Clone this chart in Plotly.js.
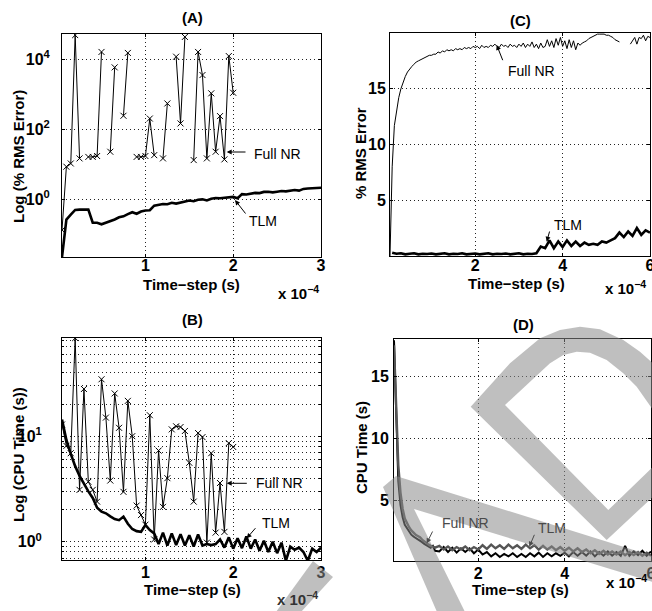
<!DOCTYPE html>
<html>
<head>
<meta charset="utf-8">
<script src="https://cdn.plot.ly/plotly-3.0.1.min.js"></script>
<style>
html,body{margin:0;padding:0;background:#fff;}
#chart{width:652px;height:611px;}
</style>
</head>
<body>
<div id="chart"></div>
<script>
// Time-step grids (x 10^-4 s)
const t05 = [0.05,0.1,0.15,0.2,0.25,0.3,0.35,0.4,0.45,0.5,0.55,0.6,0.65,0.7,0.75,0.8,0.85,0.9,0.95,1,
  1.05,1.1,1.15,1.2,1.25,1.3,1.35,1.4,1.45,1.5,1.55,1.6,1.65,1.7,1.75,1.8,1.85,1.9,1.95,2,
  2.05,2.1,2.15,2.2,2.25,2.3,2.35,2.4,2.45,2.5,2.55,2.6,2.65,2.7,2.75,2.8,2.85,2.9,2.95,3,
  3.05,3.1,3.15,3.2,3.25,3.3,3.35,3.4,3.45,3.5,3.55,3.6,3.65,3.7,3.75,3.8,3.85,3.9,3.95,4,
  4.05,4.1,4.15,4.2,4.25,4.3,4.35,4.4,4.45,4.5,4.55,4.6,4.65,4.7,4.75,4.8,4.85,4.9,4.95,5,
  5.05,5.1,5.15,5.2,5.25,5.3,5.35,5.4,5.45,5.5,5.55,5.6,5.65,5.7,5.75,5.8,5.85,5.9,5.95,6];
const t10 = [0.1,0.2,0.3,0.4,0.5,0.6,0.7,0.8,0.9,1,1.1,1.2,1.3,1.4,1.5,1.6,1.7,1.8,1.9,2,
  2.1,2.2,2.3,2.4,2.5,2.6,2.7,2.8,2.9,3,3.1,3.2,3.3,3.4,3.5,3.6,3.7,3.8,3.9,4,
  4.1,4.2,4.3,4.4,4.5,4.6,4.7,4.8,4.9,5,5.1,5.2,5.3,5.4,5.5,5.6,5.7,5.8,5.9,6];

// (A) % RMS error, log scale
const aFullNR = [0.13,8.4,10.4,48500,14.5,null,16,16,17,16000,null,22.5,5800,null,240,15000,null,16,16,17,
  200,18,null,14.5,540,null,11700,145,43000,null,13,16000,3500,14.5,1050,22.5,235,13.6,12200,1090];
const aTLM = [0.022,0.26,0.36,0.49,0.5,0.51,0.5,0.21,0.21,0.19,0.21,0.24,0.26,0.30,0.32,0.37,0.42,0.38,0.44,0.47,
  0.48,0.65,0.69,0.72,0.71,0.78,0.74,0.80,0.87,0.91,0.87,0.95,0.98,0.91,1.02,1.07,1.05,1.07,1.10,1.15,
  1.05,1.38,1.35,1.45,1.5,1.48,1.6,1.62,1.55,1.62,1.7,1.66,1.78,1.82,1.74,1.95,2.0,2.0,2.05,2.1];

// (B) CPU time, log scale
const bFullNR = [12.9,8.1,6.9,85,3.1,28,3.7,3.1,2.4,34.6,15,3.8,25.4,12,2.97,21.6,10,2.2,1.79,1.45,
  15.8,1.05,7.3,2.14,4.0,11.6,12.4,12.2,11.2,5.6,2.4,10.7,9.8,0.98,6.9,1.22,3.6,1.24,8.6,7.9];
const bTLM = [14.4,9.2,6.8,5.2,4.2,3.5,3.0,2.6,2.1,1.93,1.86,1.74,1.64,1.6,1.73,1.48,1.32,1.26,1.24,1.44,
  1.29,1.20,0.95,1.22,0.92,1.20,0.93,1.18,0.92,1.15,0.90,1.17,0.92,0.95,0.93,0.95,1.05,0.88,1.10,0.86,
  1.08,0.87,1.12,0.86,1.05,0.82,1.02,0.80,1.0,0.78,0.98,0.66,0.9,0.84,0.88,0.80,0.66,0.86,0.80,0.88];

// (C) % RMS error, linear
const cFullNR = [0,8.0,11.7,13.1,14.2,15.0,15.6,16.1,16.5,16.8,17.0,17.2,17.4,17.5,17.6,17.7,17.8,17.9,18.0,18.0,
  18.1,18.1,18.3,18.2,18.4,18.3,18.5,18.4,18.5,18.4,18.6,18.5,18.6,18.5,18.7,18.6,18.7,18.6,18.8,18.7,
  18.8,18.6,18.9,18.7,18.8,18.7,18.9,18.8,19.0,18.8,18.7,19.0,18.8,18.9,18.7,19.0,18.8,18.9,18.7,19.0,
  18.8,19.1,18.7,19.0,18.8,19.2,18.7,19.0,18.6,19.1,18.7,18.8,19.4,18.8,19.3,18.7,19.5,18.9,19.6,18.8,
  19.3,18.6,19.4,18.7,19.3,18.5,19.1,18.9,19.1,19.2,19.3,19.5,19.6,19.7,19.8,19.9,19.9,19.9,19.9,19.8,
  19.8,19.7,19.6,19.4,19.3,19.2,null,null,null,null,19.0,19.3,19.6,19.0,19.6,19.5,19.8,19.3,19.7,19.6];
const cTLM = [0.3,0.2,0.25,0.15,0.2,0.25,0.15,0.2,0.18,0.22,0.15,0.2,0.25,0.15,0.2,0.18,0.25,0.15,0.2,0.22,
  0.15,0.2,0.25,0.15,0.2,0.18,0.22,0.15,0.2,0.25,0.15,0.2,0.18,0.25,0.85,0.7,1.4,0.7,1.3,0.8,
  1.4,0.9,1.3,0.9,1.2,1.0,1.1,1.0,1.3,1.2,1.4,1.6,2.1,1.7,2.2,1.8,2.5,1.9,2.3,2.1];

// (D) CPU time, linear
const dX = t05.slice(0,20).concat(t10.slice(10));
const dFullNR = [17.9,11.5,6.5,4.6,3.6,3.0,2.7,2.4,2.2,2.05,1.95,1.85,1.75,1.6,1.45,1.35,1.3,1.15,1.3,0.9,
  0.85,1.2,0.8,1.15,0.75,1.1,0.8,1.1,0.7,1.0,0.6,0.8,0.45,0.7,0.4,0.65,0.45,0.7,0.4,0.65,
  0.4,0.7,0.45,0.75,0.4,0.7,0.45,0.7,0.5,0.75,0.45,0.8,0.5,0.8,0.5,0.85,0.45,0.8,0.5,0.85,
  0.5,0.8,0.5,1.3,0.5,0.85,0.55,0.9,0.5,0.85];
const dTLM = [17.5,12.5,7.8,5.6,4.3,3.5,3.1,2.8,2.55,2.35,2.2,2.1,2.0,1.8,1.65,1.5,1.4,1.3,1.2,1.15,
  1.3,1.0,1.25,0.95,1.2,1.0,1.25,0.95,1.2,1.0,1.35,1.05,1.4,1.1,1.35,1.05,1.4,1.1,1.35,1.05,
  1.4,1.1,1.35,1.0,1.3,1.0,1.25,0.95,1.2,0.9,1.15,0.85,1.1,0.8,1.0,0.7,0.95,0.65,0.9,0.6,
  0.85,0.6,0.85,0.55,0.8,0.55,0.8,0.5,0.75,0.5];

const W = 652, H = 611;
const px = v => v / W;
const py = v => 1 - v / H;
const FONT = 'Liberation Sans, Arial, Helvetica, sans-serif';

const markerX = {symbol:'x-thin-open', size:6, color:'#000', line:{width:1, color:'#000'}};
const traces = [
  {x:t05.slice(0,40), y:aFullNR, xaxis:'x', yaxis:'y', mode:'lines+markers', line:{color:'#000', width:1}, marker:markerX},
  {x:t05.slice(0,60), y:aTLM, xaxis:'x', yaxis:'y', mode:'lines', line:{color:'#000', width:2.6}},
  {x:t05.slice(0,40), y:bFullNR, xaxis:'x2', yaxis:'y2', mode:'lines+markers', line:{color:'#000', width:1}, marker:markerX},
  {x:t05.slice(0,60), y:bTLM, xaxis:'x2', yaxis:'y2', mode:'lines', line:{color:'#000', width:2.6}},
  {x:t05, y:cFullNR, xaxis:'x3', yaxis:'y3', mode:'lines', line:{color:'#000', width:1}},
  {x:t10, y:cTLM, xaxis:'x3', yaxis:'y3', mode:'lines', line:{color:'#000', width:2.6}},
  {x:dX, y:dFullNR, xaxis:'x4', yaxis:'y4', mode:'lines', line:{color:'#000', width:2}},
  {x:dX, y:dTLM, xaxis:'x4', yaxis:'y4', mode:'lines', line:{color:'#555', width:2.4}}
];

const tf = {family:FONT, size:16, color:'#000', weight:'bold'};
function ax(extra){
  return Object.assign({
    showline:true, mirror:'ticks', linecolor:'#000', linewidth:1,
    ticks:'inside', ticklen:3, tickcolor:'#000',
    showgrid:true, gridcolor:'#222', griddash:'1px,3px', gridwidth:1,
    zeroline:false, tickfont:tf, fixedrange:true, ticklabeloverflow:'allow'
  }, extra);
}

const sup = n => '10<sup>' + n + '</sup>';
const minorB = [0.7,0.8,0.9,2,3,4,5,6,7,8,9,20,30,40,50,60,70,80];

const layout = {
  width:W, height:H, margin:{l:0,r:0,t:0,b:0},
  paper_bgcolor:'#fff', plot_bgcolor:'#fff', showlegend:false,
  font:{family:FONT, color:'#000'},
  xaxis: ax({domain:[px(62),px(321)], anchor:'y', range:[0.05,3], tickmode:'array', tickvals:[1,2,3], ticklabelstandoff:-6}),
  yaxis: ax({domain:[py(257),py(34)], anchor:'x', type:'log', range:[-1.656,4.717], tickmode:'array',
    tickvals:[1,100,10000], ticktext:[sup(0),sup(2),sup(4)], ticklabelstandoff:8}),
  xaxis2: ax({domain:[px(62),px(321)], anchor:'y2', range:[0.05,3], tickmode:'array', tickvals:[1,2,3], ticklabelstandoff:-2}),
  yaxis2: ax({domain:[py(560),py(338)], anchor:'x2', type:'log', range:[-0.173,1.93], tickmode:'array',
    tickvals:[1,10], ticktext:[sup(0),sup(1)], ticklabelstandoff:16,
    minor:{tickmode:'array', tickvals:minorB, ticks:'inside', ticklen:2, tickcolor:'#000', showgrid:true, gridcolor:'#222', griddash:'1px,3px', gridwidth:1}}),
  xaxis3: ax({domain:[px(390),px(650)], anchor:'y3', range:[0.05,6], tickmode:'array', tickvals:[2,4,6], ticklabelstandoff:-5}),
  yaxis3: ax({domain:[py(256),py(33)], anchor:'x3', range:[0,20], tickmode:'array', tickvals:[5,10,15], ticklabelstandoff:0}),
  xaxis4: ax({domain:[px(394),px(651)], anchor:'y4', range:[0.05,6], tickmode:'array', tickvals:[2,4,6], ticklabelstandoff:-2}),
  yaxis4: ax({domain:[py(560.7),py(339)], anchor:'x4', range:[0.1,18], tickmode:'array', tickvals:[5,10,15], ticklabelstandoff:1}),
  annotations: [],
  shapes: []
};

function txt(t, x, y, opts){
  layout.annotations.push(Object.assign({
    text:t, x:px(x), y:py(y), xref:'paper', yref:'paper', xanchor:'center', yanchor:'middle',
    showarrow:false, font:{family:FONT, size:15, color:'#000', weight:'bold'}
  }, opts||{}));
}
function arrow(tipX, tipY, tailX, tailY, color){
  layout.annotations.push({
    text:'', x:px(tipX), y:py(tipY), xref:'paper', yref:'paper',
    showarrow:true, ax:tailX-tipX, ay:tailY-tipY, axref:'pixel', ayref:'pixel',
    arrowhead:2, arrowsize:1, arrowwidth:1, arrowcolor:color||'#000', standoff:0, startstandoff:0
  });
}
const lab = {family:FONT, size:14, color:'#000'};
const labD = {family:FONT, size:14, color:'#4a4a4a'};

// panel titles
txt('(A)',192,17); txt('(B)',192,319); txt('(C)',520,20); txt('(D)',523,324);
// x titles
txt('Time\u2212step (s)',191.5,285); txt('Time\u2212step (s)',192.5,589);
txt('Time\u2212step (s)',516,283.5); txt('Time\u2212step (s)',520,589);
// y titles
txt('Log (% RMS Error)',18,157,{textangle:-90});
txt('Log (CPU Time (s))',18,455,{textangle:-90});
txt('% RMS Error',360,153,{textangle:-90});
txt('CPU Time (s)',361,448,{textangle:-90});
// exponent labels
txt('x 10<sup>\u22124</sup>',298,292); txt('x 10<sup>\u22124</sup>',297,598,{font:{family:FONT,size:15,color:'#333',weight:'bold'}});
txt('x 10<sup>\u22124</sup>',625,288); txt('x 10<sup>\u22124</sup>',626,581);
// callouts
txt('Full NR',277,154,{font:lab}); arrow(226.7,152,247,152);
txt('TLM',263,221,{font:lab}); arrow(235,200,246.7,215);
txt('Full NR',279,482.5,{font:lab}); arrow(226.7,483.3,248.3,483.3);
txt('TLM',276,522.5,{font:lab}); arrow(246.7,538.3,256.7,526.7);
txt('Full NR',531,71,{font:lab}); arrow(496.7,45,503.3,61.7);
txt('TLM',568,225,{font:lab}); arrow(546.7,241.7,550,230);
txt('Full NR',465,523.3,{font:labD}); arrow(426.7,543.3,433.3,530,'#4a4a4a');
txt('TLM',551.7,527.5,{font:labD}); arrow(529.3,546.7,535,533.3,'#4a4a4a');

// watermark (grey overlay strokes)
function poly(pts){
  return pts.map((p,i)=>(i?'L':'M')+px(p[0]).toFixed(5)+','+py(p[1]).toFixed(5)).join(' ')+' Z';
}
const wm = {type:'path', xref:'paper', yref:'paper', layer:'above', fillcolor:'#8a8a8a', opacity:0.55, line:{width:0}};
layout.shapes.push(Object.assign({path:poly([[276,612],[313,561],[333,577],[301,612]])}, wm));
layout.shapes.push(Object.assign({path:poly([[383,487],[396,476],[653,556],[653,582],[414,509],[465,612],[437,612]])}, wm));
const dOuter = [[470.7,406.7],[510,363.3],[540,338.3],[560,330],[580,326.7],[600,329.3],[623.3,340],[640,351.7],[653,363.3],[653,496.7],[606.7,540]];
const dInner = [[505,405],[608.3,510],[653,466.7],[653,410],[636.7,386.7],[623.3,373.3],[606.7,360],[590,352.7],[576.7,351.7],[563.3,355],[550,363.3]];
layout.shapes.push(Object.assign({path:poly(dOuter)+' '+poly(dInner), fillrule:'evenodd'}, wm));

Plotly.newPlot('chart', traces, layout, {displayModeBar:false, staticPlot:true});
</script>
</body>
</html>
